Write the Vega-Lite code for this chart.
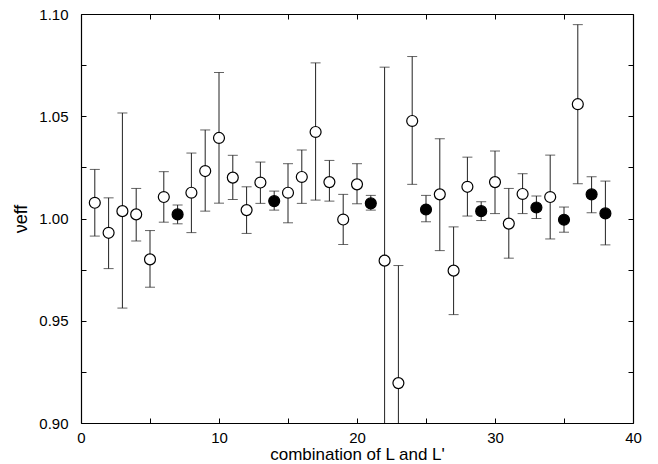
{
  "$schema": "https://vega.github.io/schema/vega-lite/v6.json",
  "width": 552,
  "height": 409,
  "autosize": {"type": "none"},
  "padding": {"left": 81, "top": 14, "right": 25, "bottom": 41},
  "background": "white",
  "config": {
    "view": {"stroke": null},
    "axis": {"labelFont": "Liberation Sans", "titleFont": "Liberation Sans", "labelColor": "black", "titleColor": "black", "domainColor": "black", "tickColor": "black", "grid": false, "labelFontSize": 15, "titleFontSize": 17, "titleFontWeight": "normal", "tickSize": -5, "domainWidth": 1.2, "tickWidth": 1}
  },
  "data": {"values": [
    {"x": 1, "v": 1.0077, "lo": 0.9914, "hi": 1.024, "filled": false},
    {"x": 2, "v": 0.993, "lo": 0.9755, "hi": 1.0101, "filled": false},
    {"x": 3, "v": 1.0036, "lo": 0.9562, "hi": 1.0516, "filled": false},
    {"x": 4, "v": 1.002, "lo": 0.989, "hi": 1.0147, "filled": false},
    {"x": 5, "v": 0.98, "lo": 0.9664, "hi": 0.9941, "filled": false},
    {"x": 6, "v": 1.0105, "lo": 0.9982, "hi": 1.0229, "filled": false},
    {"x": 7, "v": 1.002, "lo": 0.9974, "hi": 1.0066, "filled": true},
    {"x": 8, "v": 1.0126, "lo": 0.9931, "hi": 1.032, "filled": false},
    {"x": 9, "v": 1.0232, "lo": 1.0036, "hi": 1.0433, "filled": false},
    {"x": 10, "v": 1.0394, "lo": 1.0075, "hi": 1.0714, "filled": false},
    {"x": 11, "v": 1.02, "lo": 1.0093, "hi": 1.0309, "filled": false},
    {"x": 12, "v": 1.0041, "lo": 0.9927, "hi": 1.0155, "filled": false},
    {"x": 13, "v": 1.0176, "lo": 1.0074, "hi": 1.0276, "filled": false},
    {"x": 14, "v": 1.0085, "lo": 1.0041, "hi": 1.0134, "filled": true},
    {"x": 15, "v": 1.0126, "lo": 0.9979, "hi": 1.0268, "filled": false},
    {"x": 16, "v": 1.0203, "lo": 1.0074, "hi": 1.0335, "filled": false},
    {"x": 17, "v": 1.0423, "lo": 1.009, "hi": 1.0761, "filled": false},
    {"x": 18, "v": 1.0178, "lo": 1.0085, "hi": 1.0284, "filled": false},
    {"x": 19, "v": 0.9995, "lo": 0.9873, "hi": 1.0118, "filled": false},
    {"x": 20, "v": 1.0167, "lo": 1.0072, "hi": 1.0268, "filled": false},
    {"x": 21, "v": 1.0074, "lo": 1.0041, "hi": 1.0113, "filled": true},
    {"x": 22, "v": 0.9794, "lo": 0.88, "hi": 1.074, "filled": false},
    {"x": 23, "v": 0.9195, "lo": 0.88, "hi": 0.977, "filled": false},
    {"x": 24, "v": 1.0477, "lo": 1.0167, "hi": 1.0792, "filled": false},
    {"x": 25, "v": 1.0044, "lo": 0.9984, "hi": 1.0113, "filled": true},
    {"x": 26, "v": 1.0118, "lo": 0.9843, "hi": 1.039, "filled": false},
    {"x": 27, "v": 0.9745, "lo": 0.953, "hi": 0.9959, "filled": false},
    {"x": 28, "v": 1.0155, "lo": 1.0012, "hi": 1.03, "filled": false},
    {"x": 29, "v": 1.0036, "lo": 0.999, "hi": 1.0082, "filled": true},
    {"x": 30, "v": 1.0178, "lo": 1.0024, "hi": 1.033, "filled": false},
    {"x": 31, "v": 0.9975, "lo": 0.9806, "hi": 1.0147, "filled": false},
    {"x": 32, "v": 1.012, "lo": 1.0024, "hi": 1.0219, "filled": false},
    {"x": 33, "v": 1.0054, "lo": 1.0, "hi": 1.011, "filled": true},
    {"x": 34, "v": 1.0105, "lo": 0.99, "hi": 1.031, "filled": false},
    {"x": 35, "v": 0.9994, "lo": 0.9933, "hi": 1.0056, "filled": true},
    {"x": 36, "v": 1.0559, "lo": 1.017, "hi": 1.0948, "filled": false},
    {"x": 37, "v": 1.0118, "lo": 1.0028, "hi": 1.0204, "filled": true},
    {"x": 38, "v": 1.0025, "lo": 0.9871, "hi": 1.0183, "filled": true}
  ]},
  "resolve": {"axis": {"x": "independent", "y": "independent"}},
  "layer": [
    {
      "mark": {"type": "rule", "color": "#222", "strokeWidth": 1, "clip": true},
      "encoding": {
        "x": {"field": "x", "type": "quantitative", "scale": {"domain": [0, 40], "nice": false},
          "axis": {"orient": "bottom", "title": "combination of L and L'", "values": [0, 5, 10, 15, 20, 25, 30, 35, 40], "labelExpr": "datum.value % 10 == 0 ? datum.label : ''", "labelPadding": 12, "titlePadding": 1, "labelFlush": false}},
        "y": {"field": "lo", "type": "quantitative", "scale": {"domain": [0.9, 1.1], "nice": false, "zero": false},
          "axis": {"orient": "left", "title": "νeff", "titleFontSize": 18, "values": [0.9, 0.925, 0.95, 0.975, 1.0, 1.025, 1.05, 1.075, 1.1], "labelExpr": "round(datum.value*1000) % 50 == 0 ? format(datum.value, '.2f') : ''", "labelPadding": 18, "titlePadding": 8, "labelFlush": false}},
        "y2": {"field": "hi"}
      }
    },
    {
      "mark": {"type": "tick", "orient": "horizontal", "color": "#222", "size": 10, "thickness": 1, "clip": true},
      "encoding": {
        "x": {"field": "x", "type": "quantitative", "axis": null},
        "y": {"field": "hi", "type": "quantitative", "axis": null}
      }
    },
    {
      "mark": {"type": "tick", "orient": "horizontal", "color": "#222", "size": 10, "thickness": 1, "clip": true},
      "encoding": {
        "x": {"field": "x", "type": "quantitative", "axis": null},
        "y": {"field": "lo", "type": "quantitative", "axis": null}
      }
    },
    {
      "mark": {"type": "point", "shape": "circle", "size": 120, "strokeWidth": 1.2, "opacity": 1},
      "encoding": {
        "x": {"field": "x", "type": "quantitative",
          "axis": {"orient": "top", "title": null, "labels": false, "values": [0, 5, 10, 15, 20, 25, 30, 35, 40]}},
        "y": {"field": "v", "type": "quantitative",
          "axis": {"orient": "right", "title": null, "labels": false, "values": [0.9, 0.925, 0.95, 0.975, 1.0, 1.025, 1.05, 1.075, 1.1]}},
        "stroke": {"value": "black"},
        "fill": {"field": "filled", "type": "nominal", "scale": {"domain": [false, true], "range": ["white", "black"]}, "legend": null}
      }
    }
  ]
}
